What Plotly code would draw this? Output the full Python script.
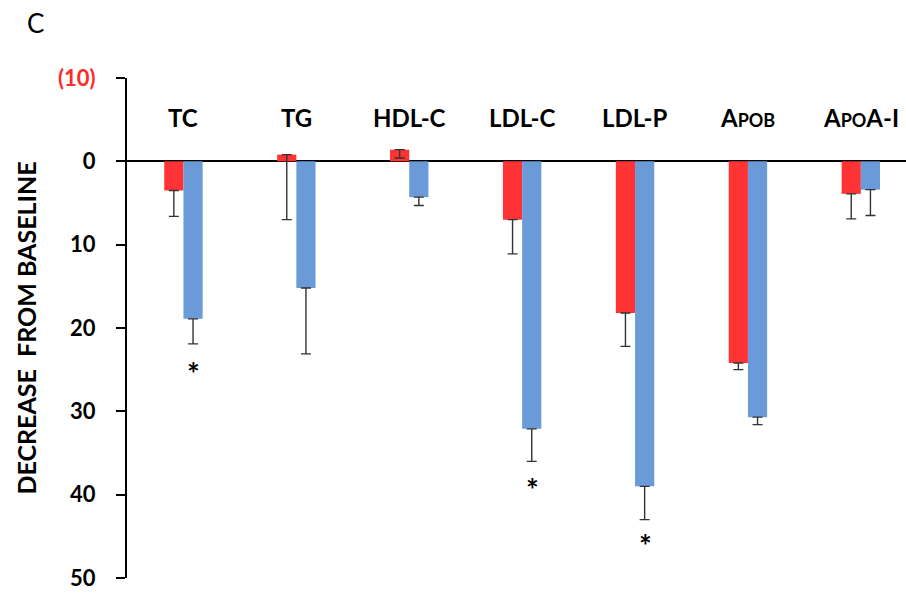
import plotly.graph_objects as go

categories = ["TC", "TG", "HDL-C", "LDL-C", "LDL-P", "ApoB", "ApoA-I"]
cat_labels = ["TC", "TG", "HDL-C", "LDL-C", "LDL-P",
              "A<span style='font-size:18px'>POB</span>",
              "A<span style='font-size:18px'>PO</span>A-I"]
red_vals = [3.5, -0.8, -1.4, 7.0, 18.2, 24.2, 3.9]
red_err = [3.1, 7.8, 1.0, 4.1, 4.0, 0.8, 3.0]
blue_vals = [18.9, 15.2, 4.3, 32.1, 39.0, 30.7, 3.4]
blue_err = [3.0, 7.9, 1.0, 3.9, 4.0, 0.9, 3.1]
star_cats = ["TC", "LDL-C", "LDL-P"]
star_y = [25.4, 39.3, 46.0]
tick_vals = [-10, 0, 10, 20, 30, 40, 50]
tick_text = ["<span style='color:#FF2A2A'><b>(10)</b></span>", "<b>0</b>", "<b>10</b>",
             "<b>20</b>", "<b>30</b>", "<b>40</b>", "<b>50</b>"]

RED = "#FF3333"
BLUE = "#6A9BD8"
FONT = "Lato, 'Open Sans', sans-serif"

fig = go.Figure()
err_style = dict(type="data", symmetric=False, color="#333333", thickness=1.4, width=5)
fig.add_trace(go.Bar(x=categories, y=red_vals, marker=dict(color=RED, line=dict(width=0)),
                     error_y=dict(array=red_err, arrayminus=[0]*len(red_err), **err_style),
                     showlegend=False))
fig.add_trace(go.Bar(x=categories, y=blue_vals, marker=dict(color=BLUE, line=dict(width=0)),
                     error_y=dict(array=blue_err, arrayminus=[0]*len(blue_err), **err_style),
                     showlegend=False))

annotations = []
for c, lab in zip(categories, cat_labels):
    annotations.append(dict(x=c, y=-5.3, xref="x", yref="y", text="<b>" + lab + "</b>",
                            showarrow=False, font=dict(family=FONT, size=24, color="black")))
for c, yv in zip(star_cats, star_y):
    annotations.append(dict(x=c, y=yv, xref="x", yref="y", text="<b>*</b>", xshift=10,
                            showarrow=False, font=dict(family=FONT, size=30, color="black")))
annotations.append(dict(x=-0.117, y=1.11, xref="paper", yref="paper", text="C",
                        showarrow=False, xanchor="center", yanchor="middle",
                        font=dict(family=FONT, size=26, color="black")))

fig.update_layout(
    width=906, height=595,
    margin=dict(l=127, r=0, t=78, b=17),
    paper_bgcolor="white", plot_bgcolor="white",
    barmode="group", bargap=0.66, bargroupgap=0,
    font=dict(family=FONT, color="black"),
    xaxis=dict(range=[-0.5, 6.4], showticklabels=False, showline=False, ticks="",
               showgrid=False, zeroline=False),
    yaxis=dict(range=[50, -10], tickvals=tick_vals, ticktext=tick_text,
               tickfont=dict(family=FONT, size=22, color="black"),
               ticks="outside", ticklen=9, tickwidth=2, tickcolor="black",
               showline=True, linecolor="black", linewidth=2,
               showgrid=False, zeroline=True, zerolinecolor="black", zerolinewidth=2,
               ticklabelstandoff=16,
               title=dict(text="<b>DECREASE\u00a0\u00a0FROM BASELINE</b>",
                          font=dict(family=FONT, size=25, color="black"), standoff=14)),
    annotations=annotations,
)

fig.write_html("out.html")
